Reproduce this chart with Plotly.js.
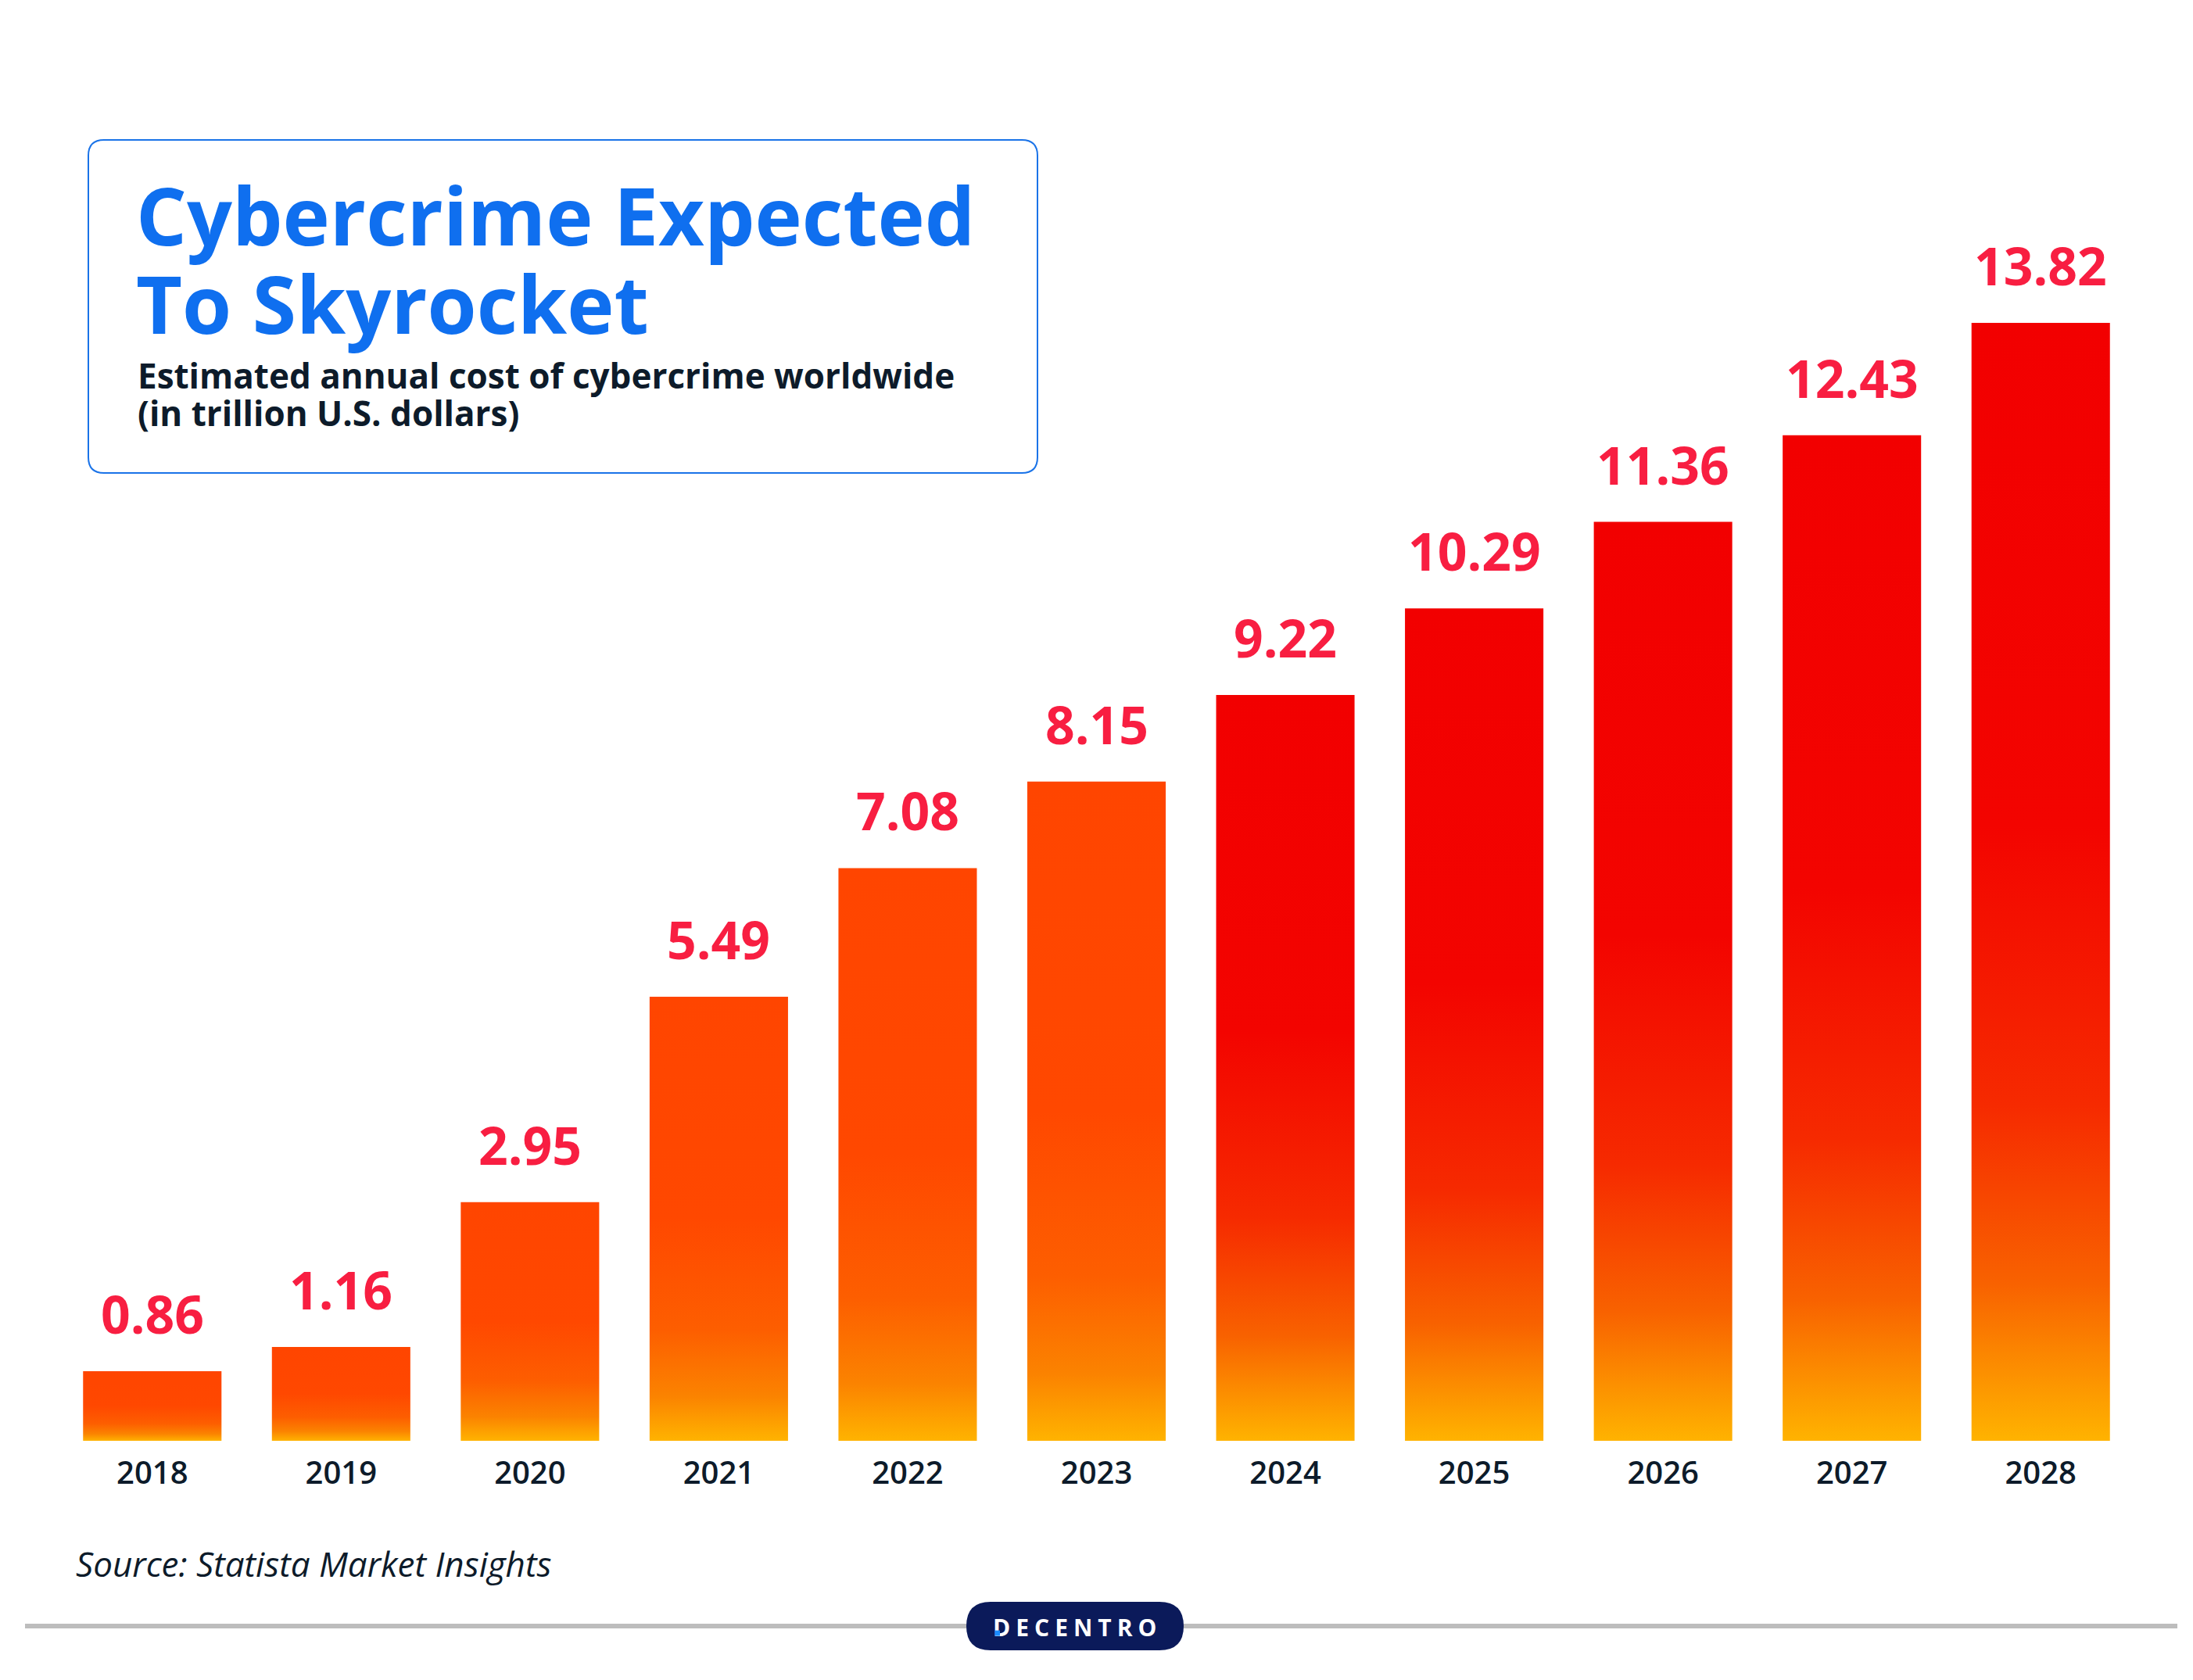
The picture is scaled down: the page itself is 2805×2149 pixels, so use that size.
<!DOCTYPE html>
<html>
<head>
<meta charset="utf-8">
<script src="https://cdn.plot.ly/plotly-3.0.1.min.js"></script>
<style>
  html, body { margin: 0; padding: 0; background: #ffffff; }
  #chart { width: 2805px; height: 2149px; }
</style>
</head>
<body>
<div id="chart"></div>
<script>
// ---- data ----
const years = ['2018', '2019', '2020', '2021', '2022', '2023', '2024', '2025', '2026', '2027', '2028'];
const values = [0.86, 1.16, 2.95, 5.49, 7.08, 8.15, 9.22, 10.29, 11.36, 12.43, 13.82];
const valueLabels = ['0.86', '1.16', '2.95', '5.49', '7.08', '8.15', '9.22', '10.29', '11.36', '12.43', '13.82'];
const titleLines = ['Cybercrime Expected', 'To Skyrocket'];
const subtitleLines = ['Estimated annual cost of cybercrime worldwide', '(in trillion U.S. dollars)'];
const sourceText = 'Source: Statista Market Insights';
const brandText = 'DECENTRO';

// ---- layout geometry (pixels) ----
const W = 2805, H = 2149;
const M = { l: 74, r: 74, t: 115, b: 306 };
const PW = W - M.l - M.r, PH = H - M.t - M.b;
const px = v => (v - M.l) / PW;          // pixel x -> paper x
const py = v => (H - M.b - v) / PH;      // pixel y -> paper y

const ORANGE = '#FF4500', RED = '#F20000';
const barColors = years.map((y, i) => (i < 6 ? ORANGE : RED));

function roundRect(x0, y0, x1, y1, r) {
  const X = px, Y = py;
  return `M${X(x0 + r)},${Y(y0)} L${X(x1 - r)},${Y(y0)} Q${X(x1)},${Y(y0)} ${X(x1)},${Y(y0 + r)} ` +
         `L${X(x1)},${Y(y1 - r)} Q${X(x1)},${Y(y1)} ${X(x1 - r)},${Y(y1)} ` +
         `L${X(x0 + r)},${Y(y1)} Q${X(x0)},${Y(y1)} ${X(x0)},${Y(y1 - r)} ` +
         `L${X(x0)},${Y(y0 + r)} Q${X(x0)},${Y(y0)} ${X(x0 + r)},${Y(y0)} Z`;
}

const FONT = '"Open Sans", "Noto Sans", sans-serif';
const TITLE_SIZE = 102, SUB_SIZE = 44;
const TITLE_GAP = 113, SUB_GAP = 48;   // wanted line pitch in px

const trace = {
  type: 'bar',
  x: years,
  y: values,
  marker: { color: barColors, line: { width: 0 } },
  hoverinfo: 'skip',
  cliponaxis: false
};

const annotations = [];
years.forEach((yr, i) => {
  annotations.push({
    x: i, y: values[i], xref: 'x', yref: 'y',
    text: '<b>' + valueLabels[i] + '</b>', showarrow: false,
    xanchor: 'center', yanchor: 'bottom', yshift: 27,
    font: { family: FONT, size: 66, color: '#F81E41' }
  });
});
// title (two lines in one text, pitch tightened after drawing)
annotations.push({
  xref: 'paper', yref: 'paper', x: px(172), y: py(275 + 0.65 * TITLE_SIZE),
  xanchor: 'left', yanchor: 'middle', align: 'left', showarrow: false,
  text: '<b>' + titleLines.join('<br>') + '</b>',
  font: { family: FONT, size: TITLE_SIZE, color: '#0F6FEF' }
});
annotations.push({
  xref: 'paper', yref: 'paper', x: px(174), y: py(480 + 0.65 * SUB_SIZE),
  xanchor: 'left', yanchor: 'middle', align: 'left', showarrow: false,
  text: '<b>' + subtitleLines.join('<br>') + '</b>',
  font: { family: FONT, size: SUB_SIZE, color: '#0D1B2A' }
});
annotations.push({
  xref: 'paper', yref: 'paper', x: px(95), y: py(2000),
  xanchor: 'left', yanchor: 'middle', showarrow: false,
  text: '<i>' + sourceText + '</i>',
  font: { family: FONT, size: 44, color: '#0D1B2A' }
});
annotations.push({
  xref: 'paper', yref: 'paper', x: px(1378), y: py(2081),
  xanchor: 'center', yanchor: 'middle', showarrow: false,
  text: '<b>' + brandText + '</b>',
  font: { family: FONT, size: 30, color: '#FFFFFF' }
});

const shapes = [
  { type: 'path', xref: 'paper', yref: 'paper', path: roundRect(113, 179, 1327, 605, 20),
    fillcolor: '#FFFFFF', line: { color: '#1A73E8', width: 2 }, layer: 'below' },
  { type: 'line', xref: 'paper', yref: 'paper', x0: px(32), x1: px(2785), y0: py(2080), y1: py(2080),
    line: { color: '#BDBDBD', width: 6 } },
  { type: 'path', xref: 'paper', yref: 'paper', path: roundRect(1236, 2049, 1514, 2111, 31),
    fillcolor: '#0B1A5A', line: { width: 0 } }
];

const layout = {
  width: W, height: H,
  margin: M,
  paper_bgcolor: '#FFFFFF', plot_bgcolor: 'rgba(0,0,0,0)',
  showlegend: false,
  bargap: 0.267,
  xaxis: {
    type: 'category', range: [-0.5, 10.5], fixedrange: true,
    showgrid: false, zeroline: false, showline: false, ticks: '',
    ticklabelstandoff: 14,
    tickfont: { family: FONT, size: 40, color: '#0D1B2A', weight: 600 }
  },
  yaxis: {
    range: [0, 16.7], fixedrange: true, visible: false,
    showgrid: false, zeroline: false
  },
  annotations: annotations,
  shapes: shapes
};

Plotly.newPlot('chart', [trace], layout, { staticPlot: true, displayModeBar: false }).then(gd => {
  const NS = 'http://www.w3.org/2000/svg';
  const svg = gd.querySelector('.main-svg');
  let defs = svg.querySelector('defs');
  if (!defs) { defs = document.createElementNS(NS, 'defs'); svg.insertBefore(defs, svg.firstChild); }
  function addGrad(id, stops) {
    const g = document.createElementNS(NS, 'linearGradient');
    g.setAttribute('id', id);
    g.setAttribute('x1', '0'); g.setAttribute('y1', '0');
    g.setAttribute('x2', '0'); g.setAttribute('y2', '1');
    stops.forEach(([o, c]) => {
      const s = document.createElementNS(NS, 'stop');
      s.setAttribute('offset', o); s.setAttribute('stop-color', c);
      g.appendChild(s);
    });
    defs.appendChild(g);
  }
  addGrad('gradOrange', [[0, '#FF4500'], [0.5, '#FF4800'], [0.75, '#FD5E00'], [0.9, '#FB8300'], [1, '#FFB300']]);
  addGrad('gradRed', [[0, '#F20000'], [0.45, '#F30400'], [0.7, '#F62A00'], [0.86, '#F86200'], [1, '#FFB300']]);
  const paths = gd.querySelectorAll('.barlayer .point path');
  paths.forEach((p, i) => {
    p.style.fill = 'url(#' + (barColors[i] === ORANGE ? 'gradOrange' : 'gradRed') + ')';
  });
  gd.querySelectorAll('.annotation-text').forEach(t => {
    const txt = t.textContent;
    // tighten the line pitch of the two-line title and subtitle
    if (txt.indexOf(titleLines[0]) === 0 || txt.indexOf(subtitleLines[0]) === 0) {
      const gap = txt.indexOf(titleLines[0]) === 0 ? TITLE_GAP : SUB_GAP;
      const lines = t.querySelectorAll('tspan.line');
      if (lines.length >= 2) {
        const b0 = lines[0].getBBox();
        const b1 = lines[1].getBBox();
        const cur = b1.y - b0.y;
        const dy = parseFloat(lines[1].getAttribute('dy')) || 0;
        const unit = (lines[1].getAttribute('dy') || '').indexOf('em') > 0 ? parseFloat(getComputedStyle(t).fontSize) : 1;
        lines[1].setAttribute('dy', (dy * unit - (cur - gap)) + 'px');
      }
    }
    // brand: letter spacing and the small blue mark on the D
    if (txt === brandText) {
      t.style.letterSpacing = '7px';
      const bb = t.getBBox();
      const r = document.createElementNS(NS, 'rect');
      r.setAttribute('x', bb.x + 3); r.setAttribute('y', bb.y + bb.height * 0.6);
      r.setAttribute('width', 6); r.setAttribute('height', 7);
      r.setAttribute('fill', '#1A8CFF');
      t.parentNode.appendChild(r);
    }
  });
});
</script>
</body>
</html>
